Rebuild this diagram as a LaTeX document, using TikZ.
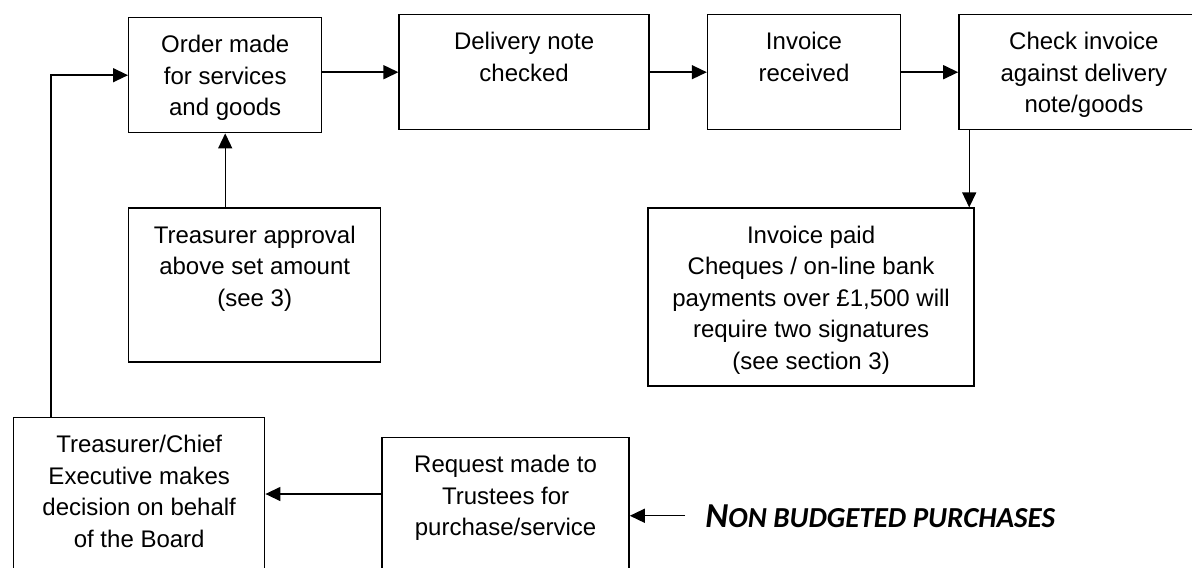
\documentclass[tikz,border=0pt]{standalone}
\usepackage{fontspec}
\setmainfont{Liberation Sans}
\newfontfamily\calibfont{Carlito}
\usetikzlibrary{positioning, arrows.meta}
\tikzstyle{process} = [rectangle, draw=black, line width=0.7pt, inner sep=0pt]
\tikzstyle{arrow} = [line width=0.7pt, -{Triangle[length=7.5pt,width=7pt]}]
\newcommand{\boxtext}[3]{\parbox[c][#2][t]{#1}{\centering\vspace*{6.6pt}\strut #3}}

\begin{document}
\begin{tikzpicture}[x=0.5pt, y=-0.5pt, every node/.style={font=\fontsize{12pt}{15.75pt}\selectfont}]
\useasboundingbox (0,0) rectangle (1192,567);
\clip (0,0) rectangle (1192,567);

% --------- Top row ----------
\node (ORDER)  [process, anchor=north west] at (128,17) {\boxtext{96.5pt}{57.5pt}{Order made\\for services\\and goods}};
\node (DELIV)  [process, right=38pt of ORDER.north east, anchor=north west, yshift=1.5pt] {\boxtext{125pt}{57.5pt}{Delivery note\\checked}};
\node (INVREC) [process, right=28.5pt of DELIV.north east, anchor=north west] {\boxtext{96.5pt}{57.5pt}{Invoice\\received}};
\node (CHECK)  [process, right=28.5pt of INVREC.north east, anchor=north west] {\boxtext{125pt}{57.5pt}{Check invoice\\against delivery\\note/goods}};

% --------- Middle row ----------
\node (APPROV) [process, below=37pt of ORDER.south west, anchor=north west] {\boxtext{126pt}{77pt}{Treasurer approval\\above set amount\\(see 3)}};
\node (PAID)   [process, right=133pt of APPROV.north east, anchor=north west] {\boxtext{163pt}{89pt}{Invoice paid\\Cheques / on-line bank\\payments over £1,500 will\\require two signatures\\(see section 3)}};

% --------- Bottom row ----------
\node (CHIEF)  [process, anchor=north west] at (13,417) {\boxtext{125.5pt}{90pt}{Treasurer/Chief\\Executive makes\\decision on behalf\\of the Board}};
\node (REQ)    [process, right=58pt of CHIEF.north east, anchor=north west, yshift=-10pt] {\boxtext{123.5pt}{80pt}{Request made to\\Trustees for\\purchase/service}};
\node (NONB)   [anchor=base west, inner sep=0pt, font=\calibfont\bfseries\itshape] at (705,527)
  {{\fontsize{17.5pt}{20pt}\selectfont N}{\fontsize{14.5pt}{17pt}\selectfont ON BUDGETED PURCHASES}};

% helper points for the off-centre connectors
\coordinate (CHKOUT) at ([xshift=5.5pt]CHECK.south west);
\coordinate (REQOUT) at ([yshift=-28.5pt]REQ.north west);
\coordinate (LOOP)   at ([xshift=19pt]CHIEF.north west);
\coordinate (NONOUT) at ([xshift=-10pt]NONB.west);

% Edges (top row)
\draw [arrow] (ORDER.east |- DELIV.west) -- (DELIV.west);
\draw [arrow] (DELIV) -- (INVREC);
\draw [arrow] (INVREC) -- (CHECK);
\draw [arrow] (CHKOUT) -- (CHKOUT |- PAID.north);
\draw [arrow] (APPROV.north -| ORDER.south) -- (ORDER.south);

% Edges (non budgeted route)
\draw [arrow] (NONOUT) -- (NONOUT -| REQ.east);
\draw [arrow] (REQOUT) -- (REQOUT -| CHIEF.east);
\draw [arrow] (LOOP) |- (ORDER.west);

\end{tikzpicture}
\end{document}
